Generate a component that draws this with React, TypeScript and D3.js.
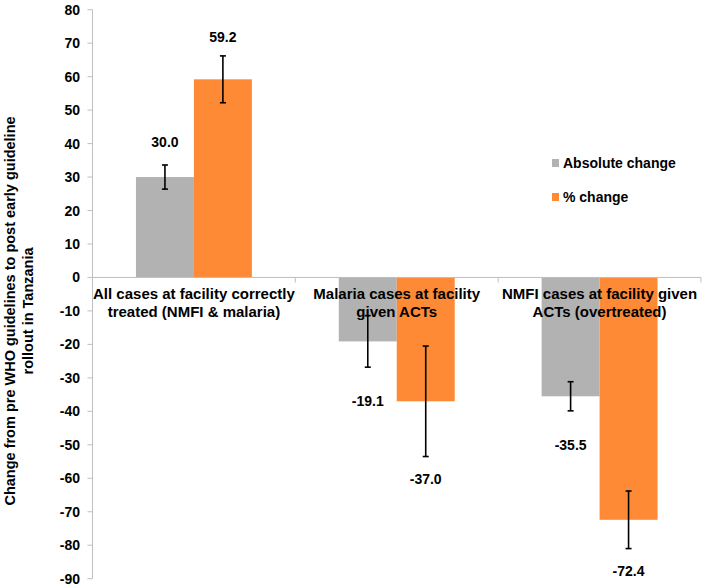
import React from 'react';
import * as d3 from 'd3';

// chart data
const categories = ['correct', 'malaria', 'nmfi'];
const categoryLines = [
  ['All cases at facility correctly', 'treated (NMFI & malaria)'],
  ['Malaria cases at facility', 'given ACTs'],
  ['NMFI cases at facility given', 'ACTs (overtreated)'],
];
const seriesNames = ['Absolute change', '% change'];
const absoluteChange = [30.0, -19.1, -35.5];
const percentChange = [59.2, -37.0, -72.4];
const absoluteError = [3.6, 7.7, 4.35];
const percentError = [7.0, 16.5, 8.6];
const yTicks = [80, 70, 60, 50, 40, 30, 20, 10, 0, -10, -20, -30, -40, -50, -60, -70, -80, -90];
const yTitleLines = ['Change from pre WHO guidelines to post early guideline', 'rollout in Tanzania'];

const colors = ['#b2b2b2', '#fe8a36'];
// gap between error-bar end and value label, per series: [above, below]
const labelGap = [
  [18, 39],
  [14, 27],
];
const axisColor = '#bfbfbf';
const font = "Arial, 'Liberation Sans', sans-serif";

const W = 705;
const H = 587;

const App = () => {
  const x = d3.scaleBand<string>().domain(categories).range([92.5, 701]).padding(0);
  const xSub = d3
    .scaleBand<string>()
    .domain(seriesNames)
    .range([0, x.bandwidth()])
    .paddingInner(0)
    .paddingOuter(0.75);
  const y = d3.scaleLinear().domain([-90, 80]).range([578.7, 9.7]);

  const values = [absoluteChange, percentChange];
  const errors = [absoluteError, percentError];

  const bars = seriesNames.flatMap((s, si) =>
    categories.map((c, ci) => ({
      s,
      si,
      c,
      ci,
      v: values[si][ci],
      e: errors[si][ci],
      x0: (x(c) as number) + (xSub(s) as number),
    }))
  );
  const bw = xSub.bandwidth();

  return (
    <svg width={W} height={H} style={{ position: 'absolute', left: 0, top: 0, background: '#fff' }}>
      {/* y axis */}
      <line x1={x.range()[0]} x2={x.range()[0]} y1={y(80)} y2={y(-90)} stroke={axisColor} strokeWidth={1} />
      {yTicks.map((t) => (
        <g key={t}>
          <line x1={x.range()[0] - 5} x2={x.range()[0]} y1={y(t)} y2={y(t)} stroke={axisColor} strokeWidth={1} />
          <text
            x={80}
            y={y(t) + 5}
            textAnchor="end"
            fontFamily={font}
            fontWeight="bold"
            fontSize={14}
          >
            {t}
          </text>
        </g>
      ))}

      {/* bars */}
      {bars.map((b) => (
        <rect
          key={b.s + b.c}
          x={b.x0}
          width={bw}
          y={Math.min(y(b.v), y(0))}
          height={Math.abs(y(b.v) - y(0))}
          fill={colors[b.si]}
        />
      ))}

      {/* zero line with category ticks */}
      <line x1={x.range()[0]} x2={x.range()[1]} y1={y(0)} y2={y(0)} stroke={axisColor} strokeWidth={1} />
      {categories.map((c) => (
        <line
          key={c}
          x1={(x(c) as number) + x.bandwidth()}
          x2={(x(c) as number) + x.bandwidth()}
          y1={y(0)}
          y2={y(0) + 5}
          stroke={axisColor}
          strokeWidth={1}
        />
      ))}

      {/* category labels */}
      {categories.map((c, i) => (
        <text
          key={c}
          textAnchor="middle"
          fontFamily={font}
          fontWeight="bold"
          fontSize={15}
        >
          {categoryLines[i].map((line, li) => (
            <tspan key={li} x={(x(c) as number) + x.bandwidth() / 2} y={y(0) + 22 + li * 17.5}>
              {line}
            </tspan>
          ))}
        </text>
      ))}

      {/* error bars */}
      {bars.map((b) => {
        const cx = b.x0 + bw / 2;
        const top = y(b.v + b.e);
        const bot = y(b.v - b.e);
        return (
          <g key={'e' + b.s + b.c} stroke="#000" strokeWidth={1.6}>
            <line x1={cx} x2={cx} y1={top} y2={bot} />
            <line x1={cx - 3} x2={cx + 3} y1={top} y2={top} />
            <line x1={cx - 3} x2={cx + 3} y1={bot} y2={bot} />
          </g>
        );
      })}

      {/* value labels */}
      {bars.map((b) => {
        const cx = b.x0 + bw / 2;
        const ly = b.v >= 0 ? y(b.v + b.e) - labelGap[b.si][0] : y(b.v - b.e) + labelGap[b.si][1];
        return (
          <text
            key={'l' + b.s + b.c}
            x={cx}
            y={ly}
            textAnchor="middle"
            fontFamily={font}
            fontWeight="bold"
            fontSize={14}
          >
            {b.v.toFixed(1)}
          </text>
        );
      })}

      {/* legend */}
      {seriesNames.map((s, i) => (
        <g key={s} transform={`translate(552, ${163 + i * 34})`}>
          <rect x={0} y={-4} width={7} height={8} fill={colors[i]} />
          <text x={11} y={5} fontFamily={font} fontWeight="bold" fontSize={14}>
            {s}
          </text>
        </g>
      ))}

      {/* y title */}
      <g transform="translate(0, 311) rotate(-90)">
        <text textAnchor="middle" fontFamily={font} fontWeight="bold" fontSize={14.5}>
          {yTitleLines.map((line, li) => (
            <tspan key={li} x={0} y={15 + li * 18}>
              {line}
            </tspan>
          ))}
        </text>
      </g>
    </svg>
  );
};

export default App;
